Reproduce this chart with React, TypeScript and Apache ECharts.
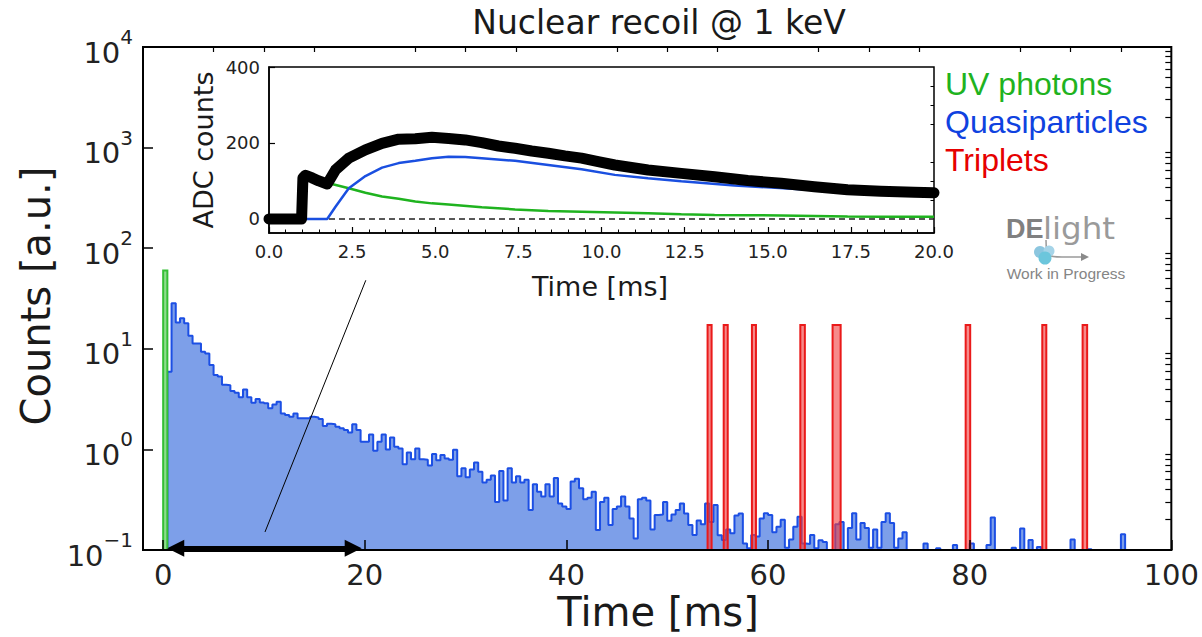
import React, { useEffect, useRef } from 'react';
import * as echarts from 'echarts';

// ---------------- main histogram data ----------------
const BIN_WIDTH = 100 / 240; // ms per histogram bin
const Y_MIN = 0.1;
const Y_MAX = 10000;

const UV_BIN_START = 0;
const UV_BIN_END = BIN_WIDTH;
const UV_COUNT = 60;

const QP_FIRST_BIN = 1;
const QP_COUNTS = [
  5.9, 28.3, 18.3, 20.1, 17.9, 13.5, 11.3, 11.3, 9.35, 9.0, 6.9, 5.5, 5.3, 4.4, 4.35, 3.8, 3.66, 3.3, 3.95, 3.3,
  2.91, 3.17, 2.93, 2.87, 2.56, 2.8, 2.98, 2.28, 2.2, 2.11, 2.28, 2.04, 2.04, 2.04, 2.11, 2.08, 2.0, 1.71, 1.8, 1.78,
  1.68, 1.62, 1.56, 1.47, 1.78, 1.56, 1.19, 1.19, 1.41, 0.97, 1.19, 1.41, 1.0, 1.31, 1.06, 1.02, 0.71, 0.93, 0.8, 1.02,
  0.8, 0.79, 0.69, 0.9, 0.78, 0.88, 0.81, 0.79, 0.99, 0.54, 0.65, 0.53, 0.63, 0.74, 0.6, 0.47, 0.5, 0.55, 0.3, 0.61,
  0.31, 0.65, 0.47, 0.54, 0.47, 0.5, 0.25, 0.45, 0.38, 0.34, 0.45, 0.34, 0.52, 0.29, 0.27, 0.256, 0.48, 0.51, 0.41, 0.32,
  0.33, 0.38, 0.158, 0.3, 0.33, 0.177, 0.256, 0.27, 0.34, 0.27, 0.206, 0.13, 0.32, 0.33, 0.31, 0.16, 0.223, 0.225, 0.3, 0.195,
  0.225, 0.25, 0.29, 0.23, 0.177, 0.141, 0.197, 0.18, 0.29, 0.19, 0.28, 0.14, 0.126, 0.16, 0.147, 0.22, 0.23, 0.116, 0.104, 0.141,
  0.136, 0.206, 0.232, 0.223, 0.15, 0.17, 0.2, 0.105, 0.127, 0.17, 0.214, 0.116, 0.115, 0.141, 0.104, 0.125, 0.12, 0, 0, 0.18,
  0.19, 0, 0.165, 0.232, 0.127, 0.185, 0.165, 0.105, 0.16, 0.105, 0.19, 0.232, 0.185, 0.105, 0.13, 0.15, 0, 0, 0, 0,
  0.116, 0, 0, 0.104, 0, 0, 0, 0.112, 0, 0, 0, 0.116, 0, 0, 0, 0.112, 0.21, 0, 0, 0,
  0, 0.105, 0, 0.164, 0, 0.126, 0, 0.107, 0, 0, 0, 0, 0, 0, 0, 0.127, 0, 0, 0, 0.102,
  0, 0, 0, 0, 0, 0, 0, 0.143,
];

const TRIPLET_LEFT = [54.0, 55.6, 58.4, 63.2, 66.4, 79.6, 87.2, 91.2];
const TRIPLET_RIGHT = [54.4, 56.0, 58.8, 63.65, 67.2, 80.05, 87.6, 91.65];
const TRIPLET_COUNT = 17.2;

const MAIN_X_MAJOR = [0, 20, 40, 60, 80, 100];
const MAIN_X_MINOR = [5, 10, 15, 25, 30, 35, 45, 50, 55, 65, 70, 75, 85, 90, 95];

// annotations (data coordinates of main panel)
const ARROW_X = [1.25, 18.85];
const ARROW_Y = 0.104;
const ZOOM_LINE_X = [10.1, 20.1];
const ZOOM_LINE_Y = [0.151, 48];

// ---------------- inset data ----------------
const SIG_T = [0, 0.5, 0.98, 1.02, 1.1, 1.3, 1.5, 1.75, 2.0, 2.4, 2.9, 3.4, 3.9, 4.4, 4.9, 5.4, 5.9, 6.4, 6.9, 7.4, 7.9, 8.4, 8.9, 9.4, 9.9, 10.4, 11.4, 12.4, 13.4, 14.4, 15.4, 16.4, 17.4, 18.4, 19.4, 20];
const SIG_V = [0, 0, 0, 108, 115, 108, 100, 92, 129, 160, 182, 199, 210, 211, 215, 212, 208, 201, 192, 186, 179, 173, 166, 160, 151, 142, 129, 120, 111, 101, 94, 85, 77, 73, 70, 69];

const UV_T = [0, 0.98, 1.02, 1.3, 1.8, 2.4, 2.9, 3.4, 3.9, 4.4, 4.9, 5.4, 6.4, 7.4, 8.4, 9.4, 10.4, 11.4, 12.4, 13.4, 14.4, 15.4, 16.4, 17.4, 18.4, 19.4, 20];
const UV_V = [0, 0, 110, 104, 94, 81, 69, 59, 53, 46, 41, 38, 31, 25, 21, 19, 17, 15, 12.5, 10.5, 10, 9, 8, 6.5, 6, 6, 6];

const QPS_T = [1.0, 1.75, 2.0, 2.4, 2.9, 3.4, 3.9, 4.4, 4.9, 5.4, 5.9, 6.4, 7.4, 8.4, 9.4, 10.4, 11.4, 12.4, 14, 16, 18, 20];
const QPS_V = [0, 0, 32, 81, 113, 135, 147, 153, 160, 164, 163, 160, 153, 142, 131, 116, 107, 99, 88, 78, 70, 63];

const BASE_T = [0, 20];
const BASE_V = [0, 0];

const INSET_Y_MAJOR = [0, 200, 400];
const INSET_Y_MINOR = [50, 100, 150, 250, 300, 350];

const MPL = 'DejaVu Sans';
const ARIAL = 'Liberation Sans';

function histPoints(): number[][] {
  const pts: number[][] = [];
  const n = QP_COUNTS.length;
  pts.push([QP_FIRST_BIN * BIN_WIDTH, Y_MIN]);
  QP_COUNTS.forEach((v, i) => {
    pts.push([(QP_FIRST_BIN + i) * BIN_WIDTH, Math.max(v, Y_MIN)]);
  });
  const endX = (QP_FIRST_BIN + n) * BIN_WIDTH;
  pts.push([endX, Math.max(QP_COUNTS[n - 1], Y_MIN)]);
  pts.push([endX, Y_MIN]);
  return pts;
}

function barRenderer(fill: string, stroke: string) {
  return (_params: any, api: any) => {
    const a = api.coord([api.value(0), api.value(2)]);
    const b = api.coord([api.value(1), Y_MIN]);
    return {
      type: 'rect',
      shape: { x: a[0], y: a[1], width: b[0] - a[0], height: b[1] - a[1] },
      style: { fill, stroke, lineWidth: 2 },
    };
  };
}

export default function App() {
  const ref = useRef<HTMLDivElement>(null);

  useEffect(() => {
    if (!ref.current) return;
    const chart = echarts.init(ref.current, undefined, { renderer: 'svg' });

    const minorLog: number[] = [];
    for (let d = -1; d < 4; d++) {
      for (let k = 2; k <= 9; k++) minorLog.push(Math.log10(k) + d);
    }

    const zip = (a: number[], b: number[]) => a.map((x, i) => [x, b[i]]);

    const option: any = {
      animation: false,
      backgroundColor: '#fff',
      grid: [
        { left: 143, top: 47, width: 1030, height: 503, show: true, borderColor: '#000', borderWidth: 2, backgroundColor: 'transparent' },
        { left: 269, top: 67, width: 665, height: 166, show: true, borderColor: '#000', borderWidth: 1.5, backgroundColor: '#fff' },
      ],
      xAxis: [
        {
          type: 'value', gridIndex: 0, min: -2, max: 100, z: 10,
          axisLine: { show: true, onZero: false, lineStyle: { color: '#000', width: 2 } },
          axisTick: { show: true, inside: true, length: 10, customValues: MAIN_X_MAJOR, lineStyle: { color: '#000', width: 1.5 } },
          axisLabel: { customValues: MAIN_X_MAJOR, fontSize: 29, fontFamily: MPL, color: '#222', margin: 10, showMaxLabel: true, showMinLabel: true },
          splitLine: { show: false },
        },
        {
          type: 'value', gridIndex: 0, min: -2, max: 100, z: 10,
          axisLine: { show: false, onZero: false },
          axisTick: { show: true, inside: true, length: 5, customValues: MAIN_X_MINOR, lineStyle: { color: '#000', width: 1.2 } },
          axisLabel: { show: false },
          splitLine: { show: false },
        },
        {
          type: 'value', gridIndex: 1, min: 0, max: 20, interval: 2.5, z: 10,
          axisLine: { show: true, onZero: false, lineStyle: { color: '#000', width: 1.5 } },
          axisTick: { show: true, inside: true, length: 6, lineStyle: { color: '#000', width: 1.2 } },
          minorTick: { show: true, splitNumber: 5, length: 3.5, lineStyle: { color: '#000', width: 1 } },
          axisLabel: { fontSize: 18, fontFamily: MPL, color: '#222', margin: 9, formatter: (v: number) => v.toFixed(1), showMaxLabel: true },
          splitLine: { show: false },
        },
      ],
      yAxis: [
        {
          type: 'log', logBase: 10, gridIndex: 0, min: Y_MIN, max: Y_MAX, z: 10,
          axisLine: { show: true, onZero: false, lineStyle: { color: '#000', width: 2 } },
          axisTick: { show: true, inside: true, length: 10, lineStyle: { color: '#000', width: 1.5 } },
          axisLabel: {
            margin: 10, showMaxLabel: true, showMinLabel: true,
            formatter: (v: number) => {
              const e = Math.round(Math.log10(v));
              return `{b|10}{s|${e < 0 ? '\u2212' + -e : e}}`;
            },
            rich: {
              b: { fontSize: 29, fontFamily: MPL, color: '#222', verticalAlign: 'bottom', lineHeight: 40 },
              s: { fontSize: 20, fontFamily: MPL, color: '#222', verticalAlign: 'top', lineHeight: 26 },
            },
          },
          splitLine: { show: false },
        },
        {
          type: 'value', gridIndex: 0, min: -1, max: 4, z: 10,
          axisLine: { show: false, onZero: false },
          axisTick: { show: true, inside: true, length: 6, customValues: minorLog, lineStyle: { color: '#000', width: 1.2 } },
          axisLabel: { show: false },
          splitLine: { show: false },
        },
        {
          type: 'value', gridIndex: 1, min: -37, max: 400, z: 10,
          axisLine: { show: true, onZero: false, lineStyle: { color: '#000', width: 1.5 } },
          axisTick: { show: true, inside: true, length: 6, customValues: INSET_Y_MAJOR, lineStyle: { color: '#000', width: 1.2 } },
          axisLabel: { customValues: INSET_Y_MAJOR, fontSize: 18, fontFamily: MPL, color: '#222', margin: 9, showMaxLabel: true },
          splitLine: { show: false },
        },
        {
          type: 'value', gridIndex: 1, min: -37, max: 400, z: 10,
          axisLine: { show: false, onZero: false },
          axisTick: { show: true, inside: true, length: 3.5, customValues: INSET_Y_MINOR, lineStyle: { color: '#000', width: 1 } },
          axisLabel: { show: false },
          splitLine: { show: false },
        },
      ],
      series: [
        {
          name: 'Quasiparticles',
          type: 'line', xAxisIndex: 0, yAxisIndex: 0, step: 'end', symbol: 'none', silent: true, z: 2,
          data: histPoints(),
          lineStyle: { color: '#1c4fe4', width: 2 },
          areaStyle: { color: '#7d9fe9', opacity: 1, origin: 'start' },
          markLine: {
            silent: true,
            symbol: ['none', 'none'],
            label: { show: false },
            itemStyle: { color: '#000' },
            data: [
              [
                { coord: [ARROW_X[0], ARROW_Y], symbol: 'triangle', symbolSize: 17, lineStyle: { color: '#000', width: 6, type: 'solid' }, itemStyle: { color: '#000' } },
                { coord: [ARROW_X[1], ARROW_Y], symbol: 'triangle', symbolSize: 17, itemStyle: { color: '#000' } },
              ],
              [
                { coord: [ZOOM_LINE_X[0], ZOOM_LINE_Y[0]], symbol: 'none', lineStyle: { color: '#000', width: 1, type: 'solid' } },
                { coord: [ZOOM_LINE_X[1], ZOOM_LINE_Y[1]], symbol: 'none' },
              ],
            ],
          },
        },
        {
          name: 'UV photons',
          type: 'custom', xAxisIndex: 0, yAxisIndex: 0, silent: true, z: 3,
          renderItem: barRenderer('#8fdc8f', '#36bf36'),
          encode: { x: [0, 1], y: 2 },
          data: [[UV_BIN_START, UV_BIN_END, UV_COUNT]],
        },
        {
          name: 'Triplets',
          type: 'custom', xAxisIndex: 0, yAxisIndex: 0, silent: true, z: 4,
          renderItem: barRenderer('rgba(240, 60, 60, 0.6)', '#ea1a1a'),
          encode: { x: [0, 1], y: 2 },
          data: TRIPLET_LEFT.map((l, i) => [l, TRIPLET_RIGHT[i], TRIPLET_COUNT]),
        },
        {
          type: 'line', xAxisIndex: 2, yAxisIndex: 2, symbol: 'none', silent: true, z: 3,
          data: zip(BASE_T, BASE_V),
          lineStyle: { color: '#222', width: 1.5, type: [6, 4] },
        },
        {
          type: 'line', xAxisIndex: 2, yAxisIndex: 2, symbol: 'none', silent: true, z: 4,
          data: zip(UV_T, UV_V),
          lineStyle: { color: '#1fb31f', width: 2.5 },
        },
        {
          type: 'line', xAxisIndex: 2, yAxisIndex: 2, symbol: 'none', silent: true, z: 4,
          data: zip(QPS_T, QPS_V),
          lineStyle: { color: '#1a4fe0', width: 2.5 },
        },
        {
          type: 'line', xAxisIndex: 2, yAxisIndex: 2, symbol: 'none', silent: true, z: 5,
          data: zip(SIG_T, SIG_V),
          lineStyle: { color: '#000', width: 11, join: 'round', cap: 'round' },
        },
      ],
      graphic: [
        { type: 'text', x: 659, y: 22, style: { text: 'Nuclear recoil @ 1 keV', fontSize: 33, fontFamily: MPL, fill: '#1a1a1a', align: 'center', verticalAlign: 'middle' } },
        { type: 'text', x: 658, y: 612, style: { text: 'Time [ms]', fontSize: 40, fontFamily: MPL, fill: '#1a1a1a', align: 'center', verticalAlign: 'middle' } },
        { type: 'text', x: 36, y: 296, rotation: Math.PI / 2, style: { text: 'Counts [a.u.]', fontSize: 40, fontFamily: MPL, fill: '#1a1a1a', align: 'center', verticalAlign: 'middle' } },
        { type: 'text', x: 600, y: 286, style: { text: 'Time [ms]', fontSize: 27, fontFamily: MPL, fill: '#1a1a1a', align: 'center', verticalAlign: 'middle' } },
        { type: 'text', x: 203, y: 150, rotation: Math.PI / 2, style: { text: 'ADC counts', fontSize: 27, fontFamily: MPL, fill: '#1a1a1a', align: 'center', verticalAlign: 'middle' } },
        { type: 'text', x: 945, y: 84, style: { text: 'UV photons', fontSize: 32, fontFamily: ARIAL, fill: '#1fb31f', align: 'left', verticalAlign: 'middle' } },
        { type: 'text', x: 945, y: 122, style: { text: 'Quasiparticles', fontSize: 32, fontFamily: ARIAL, fill: '#0f42e0', align: 'left', verticalAlign: 'middle' } },
        { type: 'text', x: 945, y: 160, style: { text: 'Triplets', fontSize: 32, fontFamily: ARIAL, fill: '#e60000', align: 'left', verticalAlign: 'middle' } },
        // DELight logo
        { type: 'text', x: 1006, y: 229, style: { text: 'DE', fontSize: 27, fontWeight: 'bold', fontFamily: ARIAL, fill: '#808080', align: 'left', verticalAlign: 'middle' } },
        { type: 'text', x: 1043, y: 228, scaleX: 1.05, style: { text: 'light', fontSize: 31, fontFamily: MPL, fill: '#9a9a9a', align: 'left', verticalAlign: 'middle' } },
        { type: 'bezierCurve', shape: { x1: 1046, y1: 240, cpx1: 1046, cpy1: 257, x2: 1062, y2: 257, cpx2: 1048, cpy2: 257 }, style: { stroke: '#9a9a9a', lineWidth: 1.5, fill: null } },
        { type: 'line', shape: { x1: 1062, y1: 257, x2: 1082, y2: 257 }, style: { stroke: '#9a9a9a', lineWidth: 1.5 } },
        { type: 'polygon', shape: { points: [[1081, 253], [1089, 257], [1081, 261]] }, style: { fill: '#8a8a8a' } },
        { type: 'circle', shape: { cx: 1040, cy: 252, r: 6 }, style: { fill: '#8cc6df' } },
        { type: 'circle', shape: { cx: 1049, cy: 251, r: 5.5 }, style: { fill: '#a6d4e8' } },
        { type: 'circle', shape: { cx: 1045, cy: 258, r: 6.5 }, style: { fill: '#6cc6dc' } },
        { type: 'text', x: 1066, y: 273, style: { text: 'Work in Progress', fontSize: 15.5, fontFamily: ARIAL, fill: '#858585', align: 'center', verticalAlign: 'middle' } },
      ],
    };

    chart.setOption(option);
    return () => chart.dispose();
  }, []);

  return (
    <div
      ref={ref}
      style={{ position: 'absolute', left: 0, top: 0, width: 1202, height: 637, background: '#fff' }}
    />
  );
}
